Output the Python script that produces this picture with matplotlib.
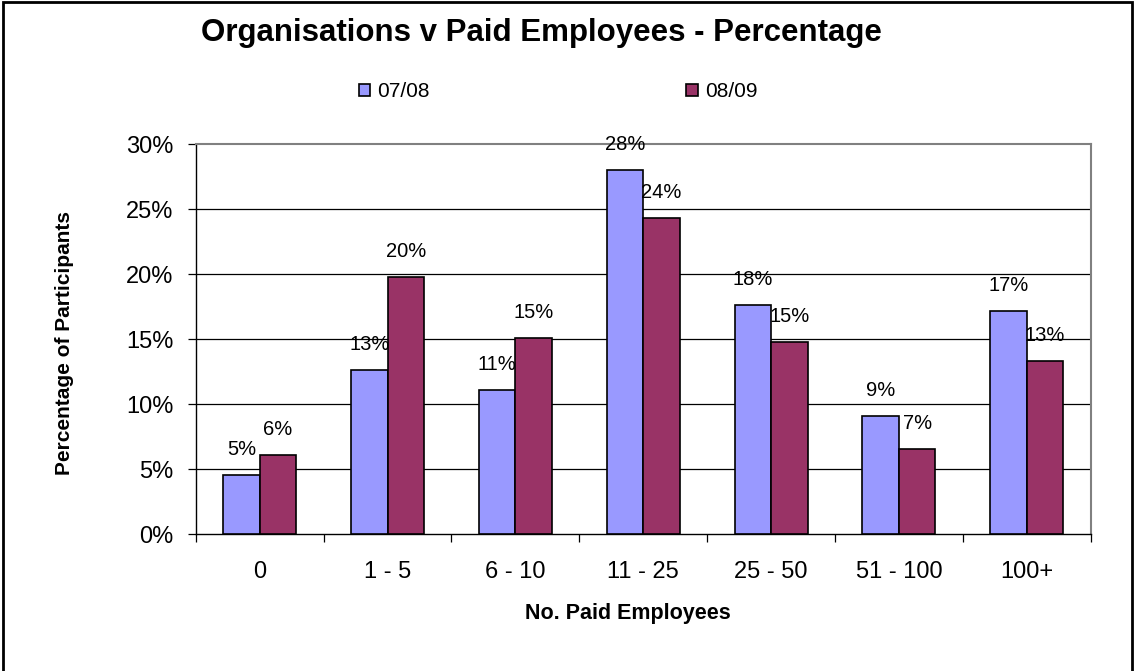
import numpy as np
import matplotlib
matplotlib.use("Agg")
import matplotlib.pyplot as plt
from matplotlib.patches import Rectangle, Patch

plt.rcParams['font.family'] = ['Liberation Sans', 'DejaVu Sans']

categories = ['0', '1 - 5', '6 - 10', '11 - 25', '25 - 50', '51 - 100', '100+']
series_names = ['07/08', '08/09']
pct_0708 = [4.6, 12.6, 11.1, 28.0, 17.6, 9.1, 17.2]
pct_0809 = [6.1, 19.8, 15.1, 24.3, 14.8, 6.6, 13.3]
yticks = [0, 5, 10, 15, 20, 25, 30]

colors = ['#9999FF', '#993366']

fig = plt.figure(figsize=(11.34, 6.71), dpi=100)
ax = fig.add_axes([0.1726, 0.2037, 0.9618 - 0.1726, 0.785 - 0.2037])

x = np.arange(len(categories))
width = 2 / 7
for i, (vals, col) in enumerate(zip([pct_0708, pct_0809], colors)):
    offs = (i - 0.5) * width
    bars = ax.bar(x + offs, vals, width, color=col, edgecolor='black',
                  linewidth=1.2, zorder=3)
    for b, v in zip(bars, vals):
        ax.annotate('{:.0f}%'.format(v), (b.get_x() + b.get_width() / 2, v),
                    xytext=(0, 16), textcoords='offset pixels',
                    ha='center', va='bottom', fontsize=14.5, zorder=4)

ax.set_xlim(-0.5, len(categories) - 0.5)
ax.set_ylim(0, 30)

# horizontal gridlines between the bottom axis and the top border
for t in yticks[1:-1]:
    ax.axhline(t, color='black', linewidth=0.9, zorder=1)

ax.set_yticks(yticks)
ax.set_yticklabels(['{}%'.format(t) for t in yticks])
ax.tick_params(axis='y', direction='out', length=6, width=0.9, pad=10,
               labelsize=17)

ax.set_xticks(x)
ax.set_xticklabels(categories)
ax.set_xticks(np.arange(-0.5, len(categories)), minor=True)
ax.tick_params(axis='x', which='major', length=0, pad=19, labelsize=17)
ax.tick_params(axis='x', which='minor', direction='out', length=6, width=0.9)

for side in ['left', 'bottom']:
    ax.spines[side].set_color('black')
    ax.spines[side].set_linewidth(1.0)
for side in ['top', 'right']:
    ax.spines[side].set_color('#808080')
    ax.spines[side].set_linewidth(1.5)

fig.text(0.4775, 0.951, 'Organisations v Paid Employees - Percentage',
         ha='center', va='center', fontsize=22.5, fontweight='bold')
fig.text(0.057, 0.489, 'Percentage of Participants', rotation=90,
         ha='center', va='center', fontsize=15, fontweight='bold')
fig.text(0.554, 0.085, 'No. Paid Employees', ha='center', va='center',
         fontsize=15.5, fontweight='bold')

handles = [Patch(facecolor=c, edgecolor='black', linewidth=1.2) for c in colors]
fig.legend(handles, series_names, ncol=2, loc='center',
           bbox_to_anchor=(0.492, 0.863), frameon=False, fontsize=15,
           handlelength=0.55, handleheight=0.55, handletextpad=0.35,
           columnspacing=12.3)

# outer chart border
fig.patches.append(Rectangle((3 / 1134, -0.01), 1129 / 1134, 1.01 - 2 / 671,
                             transform=fig.transFigure, fill=False,
                             edgecolor='black', linewidth=2))

fig.savefig('out.png', dpi=100)
